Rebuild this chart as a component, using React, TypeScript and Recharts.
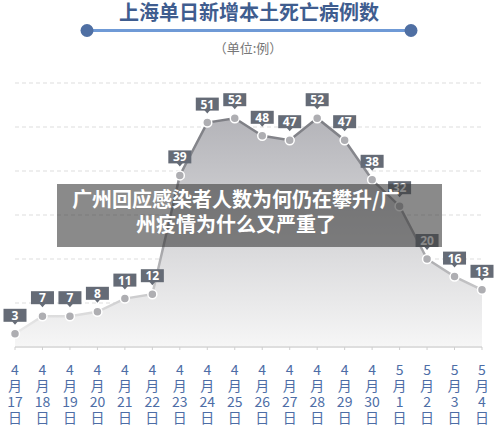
import { Area, AreaChart, CartesianGrid, LabelList, XAxis, YAxis } from "recharts";

const months = [4, 4, 4, 4, 4, 4, 4, 4, 4, 4, 4, 4, 4, 4, 5, 5, 5, 5];
const days = [17, 18, 19, 20, 21, 22, 23, 24, 25, 26, 27, 28, 29, 30, 1, 2, 3, 4];
const deaths = [3, 7, 7, 8, 11, 12, 39, 51, 52, 48, 47, 52, 47, 38, 32, 20, 16, 13];
const yTicks = [0, 10, 20, 30, 40, 50, 60];

const data = deaths.map((v, i) => ({ date: `${months[i]}月${days[i]}日`, deaths: v }));

const cjk = '"Noto Sans CJK SC", "Noto Sans", sans-serif';

function DateTick({ x, y, index }: any) {
  const lines = [String(months[index]), "月", String(days[index]), "日"];
  return (
    <g>
      {lines.map((t, i) => (
        <text
          key={i}
          x={x}
          y={y + 23 + i * 16}
          textAnchor="middle"
          fontSize={14}
          fontFamily={cjk}
          fill="#4d6da6"
        >
          {t}
        </text>
      ))}
    </g>
  );
}

function ValueTag({ x, y, value }: any) {
  return (
    <g>
      <rect x={x - 11.5} y={y - 25} width={23} height={13} fill="#656b76" />
      <path d={`M${x - 3},${y - 12.5}L${x + 3},${y - 12.5}L${x},${y - 9}Z`} fill="#656b76" />
      <text
        x={x}
        y={y - 14}
        textAnchor="middle"
        fontSize={12}
        fontWeight="bold"
        fontFamily='"Open Sans", "Noto Sans", sans-serif'
        fill="#ffffff"
      >
        {value}
      </text>
    </g>
  );
}

export default function App() {
  return (
    <div style={{ position: "relative", width: 500, height: 431, background: "#fff" }}>
      <style>{"body{margin:0}"}</style>
      <AreaChart
        width={500}
        height={431}
        data={data}
        margin={{ top: 83, right: 18, bottom: 54, left: 15 }}
      >
        <defs>
          <linearGradient id="fillGrad" x1="0" y1="0" x2="0" y2="1">
            <stop offset="0%" stopColor="#b4b4b9" />
            <stop offset="100%" stopColor="#f6f6f6" />
          </linearGradient>
          <linearGradient id="lineGrad" x1="0" y1="0" x2="0" y2="1">
            <stop offset="0%" stopColor="#7e7f85" />
            <stop offset="55%" stopColor="#9a9a9e" />
            <stop offset="100%" stopColor="#ececec" />
          </linearGradient>
        </defs>
        <CartesianGrid
          vertical={false}
          stroke="#dddddd"
          strokeDasharray="4 3"
        />
        <XAxis
          dataKey="date"
          height={30}
          interval={0}
          tick={<DateTick />}
          tickSize={3}
          axisLine={{ stroke: "#dedede", strokeWidth: 2 }}
          tickLine={{ stroke: "#cfcfcf" }}
        />
        <YAxis
          width={0}
          domain={[0, 60]}
          ticks={yTicks}
          tick={() => <g />}
          tickSize={3}
          axisLine={{ stroke: "#d6d6d6" }}
          tickLine={{ stroke: "#d6d6d6" }}
        />
        <Area
          type="linear"
          dataKey="deaths"
          stroke="url(#lineGrad)"
          strokeWidth={2.5}
          fill="url(#fillGrad)"
          fillOpacity={1}
          dot={{ r: 4.5, fill: "#aeaeb2", stroke: "#ffffff", strokeWidth: 1.5 }}
          activeDot={false}
          isAnimationActive={false}
        >
          <LabelList dataKey="deaths" content={<ValueTag />} />
        </Area>
      </AreaChart>
      <svg
        width={500}
        height={431}
        style={{ position: "absolute", left: 0, top: 0, pointerEvents: "none" }}
      >
        <text
          x={249}
          y={20}
          textAnchor="middle"
          fontSize={20}
          fontWeight="bold"
          fontFamily={cjk}
          fill="#3f5d8f"
        >
          上海单日新增本土死亡病例数
        </text>
        <line x1={87} y1={30.5} x2={411} y2={30.5} stroke="#6f9ad6" strokeWidth={3} />
        <circle cx={87} cy={30.5} r={6.5} fill="#4f6fa3" />
        <circle cx={411} cy={30.5} r={6.5} fill="#4f6fa3" />
        <text x={248} y={52.5} textAnchor="middle" fontSize={13} fontFamily={cjk} fill="#777777">
          （单位:例）
        </text>
        <rect x={57} y={184} width={385} height={63} fill="rgba(60,60,60,0.6)" />
        <text x={236} y={207} textAnchor="middle" fontSize={20} fontWeight="bold" fontFamily={cjk} fill="#ffffff">
          广州回应感染者人数为何仍在攀升/广
        </text>
        <text x={236} y={232} textAnchor="middle" fontSize={20} fontWeight="bold" fontFamily={cjk} fill="#ffffff">
          州疫情为什么又严重了
        </text>
      </svg>
    </div>
  );
}
